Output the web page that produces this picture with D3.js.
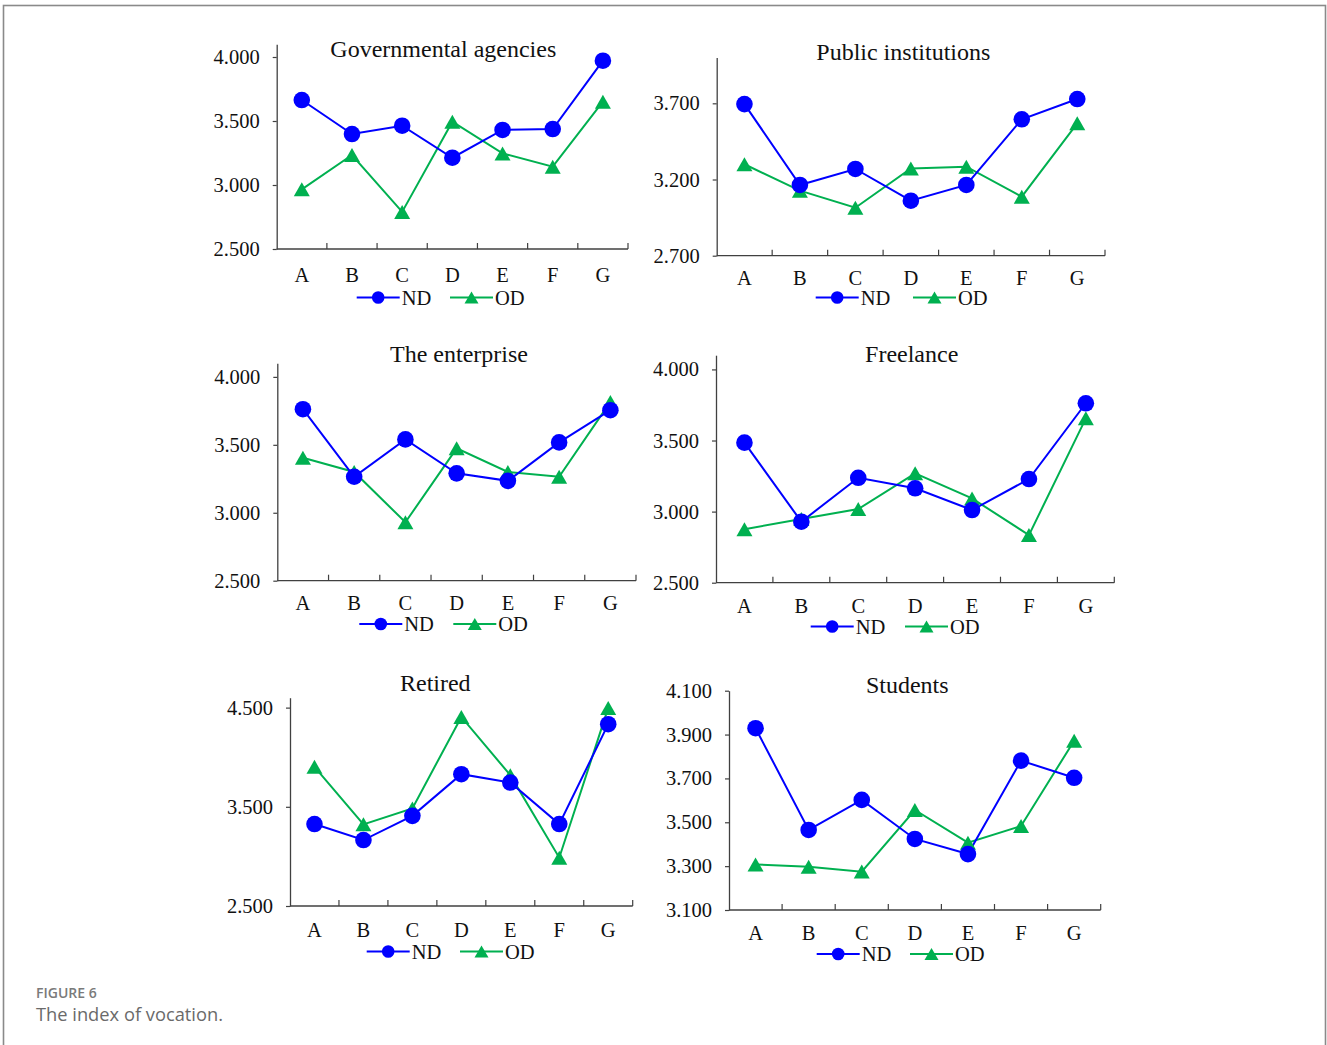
<!DOCTYPE html>
<html>
<head>
<meta charset="utf-8">
<script src="https://cdn.jsdelivr.net/npm/d3@7"></script>
<style>
  html, body { margin: 0; padding: 0; background: #fff; }
  svg { display: block; }
</style>
</head>
<body>
<svg id="chart" width="1327" height="1045"></svg>
<script>
// Index of vocation: ND vs OD across dimensions A–G, one panel per vocation group
const categories = ["A", "B", "C", "D", "E", "F", "G"];
const seriesNames = ["ND", "OD"];
const panelTitles = ["Governmental agencies", "Public institutions", "The enterprise", "Freelance", "Retired", "Students"];

const govND = [3.664, 3.398, 3.463, 3.213, 3.430, 3.437, 3.971];
const govOD = [2.966, 3.234, 2.790, 3.495, 3.247, 3.143, 3.651];
const pubND = [3.695, 3.164, 3.269, 3.061, 3.164, 3.595, 3.728];
const pubOD = [3.300, 3.127, 3.015, 3.273, 3.284, 3.087, 3.569];
const entND = [3.762, 3.265, 3.540, 3.290, 3.235, 3.518, 3.755];
const entOD = [3.405, 3.300, 2.930, 3.474, 3.300, 3.265, 3.816];
const freeND = [3.485, 2.929, 3.238, 3.164, 3.011, 3.229, 3.762];
const freeOD = [2.876, 2.948, 3.018, 3.269, 3.093, 2.835, 3.656];
const retND = [3.326, 3.165, 3.409, 3.829, 3.745, 3.326, 4.333];
const retOD = [3.903, 3.323, 3.484, 4.406, 3.819, 2.987, 4.497];
const stuND = [3.929, 3.465, 3.602, 3.424, 3.355, 3.781, 3.703];
const stuOD = [3.308, 3.297, 3.275, 3.556, 3.407, 3.483, 3.872];

// y-axis ranges and tick values per panel
const govDomain = [2.5, 4.1],  govTicks = [2.5, 3.0, 3.5, 4.0];
const pubDomain = [2.7, 4.0],  pubTicks = [2.7, 3.2, 3.7];
const entDomain = [2.5, 4.1],  entTicks = [2.5, 3.0, 3.5, 4.0];
const freeDomain = [2.5, 4.1], freeTicks = [2.5, 3.0, 3.5, 4.0];
const retDomain = [2.5, 4.6],  retTicks = [2.5, 3.5, 4.5];
const stuDomain = [3.1, 4.1],  stuTicks = [3.1, 3.3, 3.5, 3.7, 3.9, 4.1];

const figureLabel = "FIGURE 6";
const figureCaption = "The index of vocation.";

const panelData = [
  { nd: govND,  od: govOD,  domain: govDomain,  ticks: govTicks },
  { nd: pubND,  od: pubOD,  domain: pubDomain,  ticks: pubTicks },
  { nd: entND,  od: entOD,  domain: entDomain,  ticks: entTicks },
  { nd: freeND, od: freeOD, domain: freeDomain, ticks: freeTicks },
  { nd: retND,  od: retOD,  domain: retDomain,  ticks: retTicks },
  { nd: stuND,  od: stuOD,  domain: stuDomain,  ticks: stuTicks }
];

// Panel geometry (pixels)
const layout = [
  { x0: 276.7, x1: 628,    yB: 249,   yT: 44.2,  titleX: 443.3, titleY: 57,    catY: 274.5, legY: 297.5, legND: 356.7, legOD: 450 },
  { x0: 716.7, x1: 1105,   yB: 255.7, yT: 57.6,  titleX: 903.3, titleY: 60,    catY: 278,   legY: 297.5, legND: 815.7, legOD: 913 },
  { x0: 277.3, x1: 636,    yB: 580.7, yT: 363.3, titleX: 459,   titleY: 361.7, catY: 603,   legY: 624,   legND: 359.3, legOD: 453.3 },
  { x0: 716,   x1: 1114.3, yB: 582.7, yT: 355.2, titleX: 911.7, titleY: 361.7, catY: 606,   legY: 626.5, legND: 810.7, legOD: 905 },
  { x0: 290,   x1: 632.7,  yB: 906,   yT: 697.7, titleX: 435.3, titleY: 691,   catY: 930,   legY: 951.5, legND: 366.7, legOD: 460 },
  { x0: 729,   x1: 1100.7, yB: 910,   yT: 690.7, titleX: 907.3, titleY: 692.7, catY: 933,   legY: 954,   legND: 816.7, legOD: 910 }
];

const colors = { ND: "#0000ff", OD: "#00b050" };
const serif = "'Liberation Serif', 'Times New Roman', serif";
const axisColor = "#404040";

const svg = d3.select("#chart");

// outer frame
svg.append("rect")
  .attr("x", 3.5).attr("y", 5.5)
  .attr("width", 1322).attr("height", 1080)
  .attr("fill", "none").attr("stroke", "#8a8a8a").attr("stroke-width", 1.6);

function trianglePath(w, h) {
  return `M0,${-h / 2}L${w / 2},${h / 2}L${-w / 2},${h / 2}Z`;
}

panelData.forEach((pd, i) => {
  const L = layout[i];
  const g = svg.append("g");

  const x = d3.scaleBand().domain(categories).range([L.x0, L.x1]).padding(0);
  const y = d3.scaleLinear().domain(pd.domain).range([L.yB, L.yT]);
  const cx = c => x(c) + x.bandwidth() / 2;

  // y axis
  const yAxis = d3.axisLeft(y)
    .tickValues(pd.ticks)
    .tickFormat(d3.format(".3f"))
    .tickSizeInner(4)
    .tickSizeOuter(0)
    .tickPadding(13);
  const ya = g.append("g").attr("transform", `translate(${L.x0},0)`).call(yAxis);
  ya.select(".domain").attr("stroke", axisColor).attr("stroke-width", 1.3);
  ya.selectAll(".tick line").attr("stroke", axisColor).attr("stroke-width", 1.2);
  ya.selectAll(".tick text")
    .attr("font-family", serif).attr("font-size", 20.5).attr("fill", "#111");

  // x axis line with inward ticks between categories
  g.append("line")
    .attr("x1", L.x0).attr("x2", L.x1)
    .attr("y1", L.yB).attr("y2", L.yB)
    .attr("stroke", axisColor).attr("stroke-width", 1.3);
  const bounds = categories.slice(1).map(c => x(c)).concat([x.range()[1]]);
  g.selectAll(".xtick").data(bounds).join("line")
    .attr("x1", d => d).attr("x2", d => d)
    .attr("y1", L.yB).attr("y2", L.yB - 6)
    .attr("stroke", axisColor).attr("stroke-width", 1.2);

  // category labels
  g.selectAll(".cat").data(categories).join("text")
    .attr("x", d => cx(d)).attr("y", L.catY).attr("dy", "0.35em")
    .attr("text-anchor", "middle")
    .attr("font-family", serif).attr("font-size", 20.5).attr("fill", "#111")
    .text(d => d);

  // title
  g.append("text")
    .attr("x", L.titleX).attr("y", L.titleY)
    .attr("text-anchor", "middle")
    .attr("font-family", serif).attr("font-size", 24).attr("fill", "#111")
    .text(panelTitles[i]);

  const line = d3.line().x((d, j) => cx(categories[j])).y(d => y(d));

  // OD series
  g.append("path").datum(pd.od)
    .attr("d", line).attr("fill", "none")
    .attr("stroke", colors.OD).attr("stroke-width", 2);
  // ND series
  g.append("path").datum(pd.nd)
    .attr("d", line).attr("fill", "none")
    .attr("stroke", colors.ND).attr("stroke-width", 2);

  g.selectAll(".odm").data(pd.od).join("path")
    .attr("d", trianglePath(16, 14))
    .attr("transform", (d, j) => `translate(${cx(categories[j])},${y(d)})`)
    .attr("fill", colors.OD);
  g.selectAll(".ndm").data(pd.nd).join("circle")
    .attr("cx", (d, j) => cx(categories[j])).attr("cy", d => y(d))
    .attr("r", 8.3).attr("fill", colors.ND);

  // legend
  const legLen = 43;
  [["ND", L.legND], ["OD", L.legOD]].forEach(([name, lx]) => {
    g.append("line")
      .attr("x1", lx).attr("x2", lx + legLen)
      .attr("y1", L.legY).attr("y2", L.legY)
      .attr("stroke", colors[name]).attr("stroke-width", 2);
    if (name === "ND") {
      g.append("circle").attr("cx", lx + legLen / 2).attr("cy", L.legY)
        .attr("r", 6.3).attr("fill", colors.ND);
    } else {
      g.append("path").attr("d", trianglePath(14, 12))
        .attr("transform", `translate(${lx + legLen / 2},${L.legY})`)
        .attr("fill", colors.OD);
    }
    g.append("text")
      .attr("x", lx + legLen + 2).attr("y", L.legY).attr("dy", "0.35em")
      .attr("font-family", serif).attr("font-size", 20.5).attr("fill", "#111")
      .text(name);
  });
});

// caption
svg.append("text")
  .attr("x", 36).attr("y", 997.5)
  .attr("font-family", "'Open Sans', Lato, sans-serif")
  .attr("font-size", 14).attr("font-weight", 600).attr("fill", "#7a7a7a")
  .text(figureLabel);
svg.append("text")
  .attr("x", 36).attr("y", 1021)
  .attr("font-family", "'Open Sans', Lato, sans-serif")
  .attr("font-size", 18.3).attr("fill", "#6a6a6a")
  .text(figureCaption);
</script>
</body>
</html>
